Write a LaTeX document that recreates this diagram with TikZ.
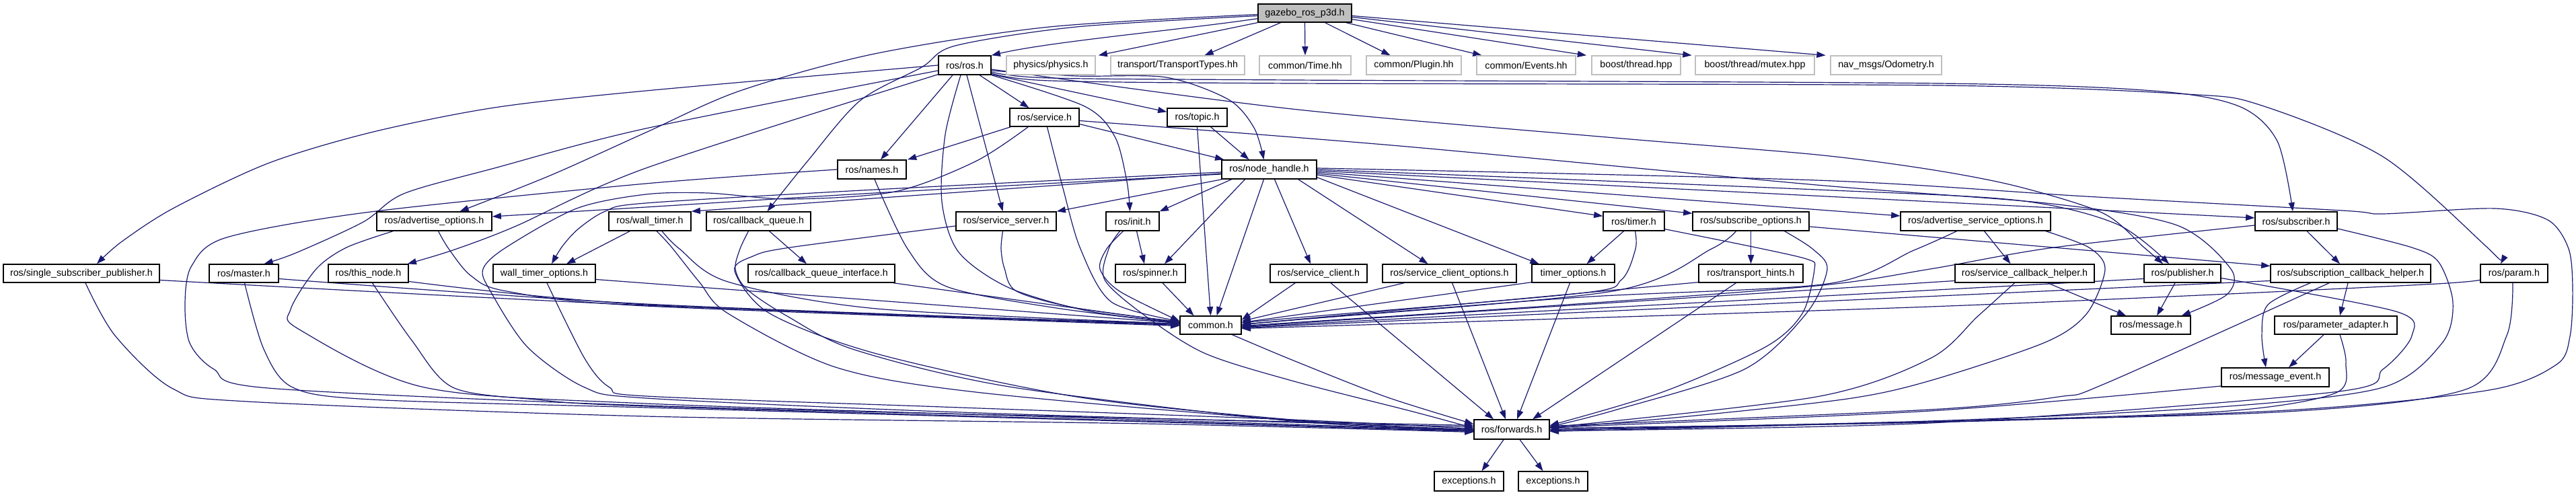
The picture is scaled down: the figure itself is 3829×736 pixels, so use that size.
\documentclass[tikz,border=0pt]{standalone}
\usepackage{fontspec}
\setmainfont{Liberation Sans}
\usetikzlibrary{arrows.meta,calc}
\definecolor{edgec}{HTML}{191970}
\definecolor{gry}{HTML}{BFBFBF}
\pgfdeclarelayer{bgl}
\pgfdeclarelayer{edl}
\pgfsetlayers{bgl,edl,main}
\newcommand\nd[7]{\node[#1,minimum width={(#5-#3)*0.25pt},minimum height={(#6-#4)*0.25pt}] (#2) at ({(#3+#5)/2},{(#4+#6)/2}) {#7};}
\begin{document}
\begin{tikzpicture}[x=0.25pt,y=-0.25pt,
  bx/.style={rectangle,inner sep=0pt,line width=0.35pt,font=\fontsize{3.57pt}{4.2pt}\selectfont},
  ob/.style={bx,draw=black,fill=white},
  gr/.style={bx,draw=gry,fill=white},
  gz/.style={bx,draw=black,fill=gry},
  e/.style={draw=edgec,line width=0.3pt,-{Triangle[length=3.3pt,width=2.3pt]}}]
\useasboundingbox (0,0) rectangle (3829,736);
\begin{pgfonlayer}{bgl}
\fill[white] (0,0) rectangle (3829,736);
\end{pgfonlayer}
% nodes
\nd{gz}{G}{1870}{6}{2009}{33}{gazebo\_ros\_p3d.h}
\nd{ob}{ros}{1395}{83}{1473}{111}{ros/ros.h}
\nd{gr}{phys}{1496}{83}{1628}{111}{physics/physics.h}
\nd{gr}{trans}{1651}{83}{1850}{111}{transport/TransportTypes.hh}
\nd{gr}{time}{1872}{83}{2008}{111}{common/Time.hh}
\nd{gr}{plug}{2031}{83}{2172}{111}{common/Plugin.hh}
\nd{gr}{evt}{2195}{83}{2342}{111}{common/Events.hh}
\nd{gr}{bth}{2366}{83}{2498}{111}{boost/thread.hpp}
\nd{gr}{bmx}{2520}{83}{2697}{111}{boost/thread/mutex.hpp}
\nd{gr}{odom}{2721}{83}{2886}{111}{nav\_msgs/Odometry.h}
\nd{ob}{srv}{1501}{161}{1604}{188}{ros/service.h}
\nd{ob}{topic}{1735}{161}{1824}{188}{ros/topic.h}
\nd{ob}{names}{1245}{238}{1347}{266}{ros/names.h}
\nd{ob}{nh}{1816}{238}{1957}{266}{ros/node\_handle.h}
\nd{ob}{advo}{560}{315}{731}{343}{ros/advertise\_options.h}
\nd{ob}{wt}{905}{315}{1027}{343}{ros/wall\_timer.h}
\nd{ob}{cbq}{1050}{315}{1205}{343}{ros/callback\_queue.h}
\nd{ob}{ss}{1421}{315}{1570}{343}{ros/service\_server.h}
\nd{ob}{init}{1644}{315}{1723}{343}{ros/init.h}
\nd{ob}{timer}{2383}{315}{2474}{343}{ros/timer.h}
\nd{ob}{subo}{2516}{315}{2689}{343}{ros/subscribe\_options.h}
\nd{ob}{aso}{2825}{315}{3048}{343}{ros/advertise\_service\_options.h}
\nd{ob}{sub}{3352}{315}{3474}{343}{ros/subscriber.h}
\nd{ob}{ssp}{5}{393}{237}{420}{ros/single\_subscriber\_publisher.h}
\nd{ob}{master}{311}{393}{414}{420}{ros/master.h}
\nd{ob}{thisn}{488}{393}{607}{420}{ros/this\_node.h}
\nd{ob}{wto}{733}{393}{885}{420}{wall\_timer\_options.h}
\nd{ob}{cbqi}{1112}{393}{1330}{420}{ros/callback\_queue\_interface.h}
\nd{ob}{spin}{1658}{393}{1762}{420}{ros/spinner.h}
\nd{ob}{sc}{1888}{393}{2032}{420}{ros/service\_client.h}
\nd{ob}{sco}{2055}{393}{2254}{420}{ros/service\_client\_options.h}
\nd{ob}{tmo}{2277}{393}{2400}{420}{timer\_options.h}
\nd{ob}{th}{2525}{393}{2680}{420}{ros/transport\_hints.h}
\nd{ob}{sch}{2906}{393}{3113}{420}{ros/service\_callback\_helper.h}
\nd{ob}{pub}{3187}{393}{3301}{420}{ros/publisher.h}
\nd{ob}{sbch}{3375}{393}{3613}{420}{ros/subscription\_callback\_helper.h}
\nd{ob}{param}{3687}{393}{3787}{420}{ros/param.h}
\nd{ob}{common}{1754}{470}{1845}{497}{common.h}
\nd{ob}{msg}{3138}{470}{3256}{497}{ros/message.h}
\nd{ob}{pa}{3381}{470}{3563}{497}{ros/parameter\_adapter.h}
\nd{ob}{me}{3302}{547}{3462}{575}{ros/message\_event.h}
\nd{ob}{fwd}{2191}{624}{2303}{653}{ros/forwards.h}
\nd{ob}{ex1}{2132}{701}{2235}{730}{exceptions.h}
\nd{ob}{ex2}{2257}{701}{2360}{730}{exceptions.h}
\begin{pgfonlayer}{edl}
% gazebo
\draw[e] ($(G.south west)+(0,-6)$) .. controls (1750,45) and (1560,62) .. (ros.north east);
\draw[e] (G.south west) -- ($(phys.north east)+(4,0)$);
\draw[e] ($(G.south)+(-36,0)$) -- ($(trans.north)+(40,0)$);
\draw[e] (G.south) -- (time.north);
\draw[e] ($(G.south)+(30,0)$) -- ($(plug.north)+(-35,0)$);
\draw[e] ($(G.south east)+(-9,0)$) -- ($(evt.north)+(-66,0)$);
\draw[e] ($(G.south east)+(0,-5)$) -- ($(bth.north)+(-74,0)$);
\draw[e] ($(G.east)+(0,6)$) -- ($(bmx.north)+(-94,0)$);
\draw[e] ($(G.east)+(0,4)$) -- ($(odom.north)+(-90,0)$);
\draw[e] plot[smooth] coordinates {($(G.west)+(0,2)$) (1560,40) (1300,80) (1100,135) (960,197) (820,260) ($(advo.north)+(38,0)$)};
\draw[e] plot[smooth] coordinates {($(G.west)+(0,4)$) (1600,40) (1420,68) (1370,100) (1278,150) (1200,240) ($(cbq.north)+(13,0)$)};
% ros.h
\draw[e] plot[smooth] coordinates {(ros.west) (960,135) (735,160) (551,197) (398,243) (257,310) (180,360) ($(ssp.north)+(23,0)$)};
\draw[e] plot[smooth] coordinates {($(ros.west)+(0,8)$) (960,191) (735,250) (600,288) (540,330) (440,376) ($(master.north)+(30,0)$)};
\draw[e] plot[smooth] coordinates {($(ros.south west)+(0,-1)$) (960,250) (765,337) (673,372) ($(thisn.north east)+(-2,0)$)};
\draw[e] ($(ros.south)+(-18,0)$) -- ($(names.north)+(13,0)$);
\draw[e] plot[smooth] coordinates {($(ros.south)+(-6,0)$) (1405,200) (1400,300) (1425,375) (1500,428) (1620,463) ($(common.west)+(0,-4)$)};
\draw[e] ($(ros.south)+(3,0)$) -- ($(ss.north)+(-5,0)$);
\draw[e] ($(ros.south)+(22,0)$) -- ($(srv.north)+(-23,0)$);
\draw[e] plot[smooth] coordinates {(ros.south east) (1612,158) (1657,203) (1675,270) ($(init.north)+(-4,0)$)};
\draw[e] ($(ros.south east)+(0,-1)$) -- ($(topic.north west)+(0,6)$);
\draw[e] plot[smooth] coordinates {($(ros.east)+(0,8)$) (1600,113) (1733,115) (1826,148) (1864,190) ($(nh.north)+(-8,0)$)};
\draw[e] plot[smooth] coordinates {($(ros.east)+(0,6)$) (1920,162) (2400,205) (2700,230) (2869,252) (2998,277) (3126,317) (3187,368) ($(pub.north)+(-29,0)$)};
\draw[e] plot[smooth] coordinates {($(ros.east)+(0,10)$) (1560,116) (1920,119) (2880,124) (3200,135) (3328,158) (3385,210) ($(sub.north)+(-5,0)$)};
\draw[e] plot[smooth] coordinates {($(ros.east)+(0,12)$) (1560,120) (1920,124) (2880,127) (3250,140) (3359,156) (3542,233) (3695,366) ($(param.north)+(-20,0)$)};
% service.h
\draw[e] ($(srv.south west)+(2,0)$) -- ($(names.north)+(53,0)$);
\draw[e] ($(srv.east)+(0,10)$) -- ($(nh.north west)+(4,0)$);
\draw[e] plot[smooth] coordinates {($(srv.south)+(4,0)$) (1580,280) (1606,370) (1652,449) ($(common.west)+(0,-6)$)};
\draw[e] plot[smooth] coordinates {($(srv.south west)+(28,0)$) (1450,240) (1330,285) (1174,296) (1052,287) (960,289) (857,310) (752,368) (718,400) (729,433) (784,516) (869,576) (960,592) (1400,612) (1920,628) ($(fwd.west)+(0,-4)$)};
\draw[e] plot[smooth] coordinates {($(srv.east)+(0,5)$) (2080,217) (2700,275) (3050,303) (3236,335) (3316,400) (3310,438) ($(msg.north east)+(-14,0)$)};
% topic.h
\draw[e] ($(topic.south)+(20,0)$) -- ($(nh.north)+(-30,0)$);
\draw[e] (topic.south) -- (common.north);
% names.h
\draw[e] plot[smooth] coordinates {(names.west) (960,273) (551,315) (337,353) (285,395) (275,450) (282,510) (318,549) (398,577) (960,603) (1700,622) ($(fwd.west)+(0,-6)$)};
\draw[e] plot[smooth] coordinates {($(names.south)+(4,0)$) (1349,370) (1407,426) (1570,458) ($(common.west)+(0,-3)$)};
% node_handle.h
\draw[e] ($(nh.west)+(0,6)$) -- (wt.north east);
\draw[e] plot[smooth] coordinates {($(nh.west)+(0,7)$) (1300,287) (960,308) ($(advo.east)+(0,-7)$)};
\draw[e] plot[smooth] coordinates {($(nh.west)+(0,4)$) (1300,282) (960,302) (900,314) (860,340) (836,366) ($(wto.north)+(11,0)$)};
\draw[e] ($(nh.south west)+(1,0)$) -- (ss.north east);
\draw[e] ($(nh.south)+(-56,0)$) -- (init.north east);
\draw[e] ($(nh.south)+(-36,0)$) -- ($(spin.north)+(21,0)$);
\draw[e] ($(nh.south)+(-8,0)$) -- ($(common.north)+(9,0)$);
\draw[e] ($(nh.south)+(8,0)$) -- ($(sc.north)+(-12,0)$);
\draw[e] ($(nh.south east)+(-28,0)$) -- ($(sco.north)+(-32,0)$);
\draw[e] ($(nh.south east)+(0,-3)$) -- ($(tmo.north)+(-51,0)$);
\draw[e] ($(nh.east)+(0,8)$) -- ($(timer.north west)+(0,7)$);
\draw[e] ($(nh.east)+(0,6)$) -- ($(subo.north west)+(0,3)$);
\draw[e] ($(nh.east)+(0,4)$) -- ($(aso.west)+(0,-8)$);
\draw[e] ($(nh.east)+(0,2)$) -- ($(sub.west)+(0,-5)$);
\draw[e] plot[smooth] coordinates {(nh.east) (2700,282) (3000,298) (3146,333) ($(pub.north)+(-20,0)$)};
\draw[e] plot[smooth] coordinates {($(nh.east)+(0,-2)$) (2700,268) (3100,292) (3481,313) (3542,318) (3708,310) (3787,327) (3818,370) (3824,430) (3820,500) (3800,542) (3700,580) (3400,610) (2869,628) ($(fwd.east)+(0,-2)$)};
% wall_timer.h
\draw[e] ($(wt.south west)+(32,0)$) -- ($(wto.north)+(33,0)$);
\draw[e] plot[smooth] coordinates {($(wt.south)+(18,0)$) (1010,370) (1082,419) (1303,459) ($(common.west)+(0,-2)$)};
\draw[e] plot[smooth] coordinates {($(wt.south)+(10,0)$) (997,366) (1040,420) (1082,466) (1242,546) (1450,583) (1920,625) (fwd.west)};
% callback_queue.h
\draw[e] ($(cbq.south)+(16,0)$) -- ($(cbqi.north)+(-22,0)$);
\draw[e] plot[smooth] coordinates {($(cbq.south)+(-15,0)$) (1100,370) (1093,400) (1110,430) (1170,470) (1270,520) (1500,575) (1920,626) ($(fwd.west)+(0,1)$)};
% service_server.h
\draw[e] plot[smooth] coordinates {($(ss.south)+(-5,0)$) (1488,370) (1493,399) (1511,433) (1600,458) ($(common.west)+(0,-5)$)};
\draw[e] plot[smooth] coordinates {($(ss.west)+(0,7)$) (1174,368) (1119,381) (1092,403) (1144,466) (1303,526) (1600,590) (1920,624) ($(fwd.west)+(0,2)$)};
% init.h
\draw[e] ($(init.south)+(6,0)$) -- ($(spin.north)+(-9,0)$);
\draw[e] plot[smooth] coordinates {($(init.south)+(-14,0)$) (1645,370) (1635,400) (1664,433) ($(common.west)+(0,-6)$)};
\draw[e] plot[smooth] coordinates {($(init.south)+(-19,0)$) (1648,370) (1642,416) (1700,468) (1790,525) (1920,566) (2100,612) ($(fwd.west)+(0,-2)$)};
% spinner, callback_queue_interface, common
\draw[e] ($(spin.south)+(18,0)$) -- ($(common.north)+(-25,0)$);
\draw[e] ($(cbqi.south east)+(-3,0)$) -- ($(common.west)+(0,-4)$);
\draw[e] plot[smooth] coordinates {($(common.south)+(32,0)$) (1920,535) (2060,590) ($(fwd.west)+(0,-8)$)};
% left row
\draw[e] plot[smooth] coordinates {($(ssp.east)+(0,10)$) (960,454) ($(common.west)+(0,-2)$)};
\draw[e] plot[smooth] coordinates {($(ssp.south)+(6,0)$) (171,499) (257,578) (367,597) (960,619) (1700,630) ($(fwd.west)+(0,4)$)};
\draw[e] plot[smooth] coordinates {($(master.east)+(0,8)$) (960,452) ($(common.west)+(0,-1)$)};
\draw[e] plot[smooth] coordinates {($(master.south)+(1,0)$) (392,519) (435,576) (551,594) (960,606) (1700,627) ($(fwd.west)+(0,3)$)};
\draw[e] plot[smooth] coordinates {($(thisn.east)+(0,12)$) (960,453) (common.west)};
\draw[e] plot[smooth] coordinates {($(thisn.south)+(6,0)$) (612,506) (673,576) (796,594) (960,604) (1700,626) ($(fwd.west)+(0,2)$)};
\draw[e] ($(wto.east)+(0,9)$) -- ($(common.west)+(0,-3)$);
\draw[e] plot[smooth] coordinates {($(wto.south)+(4,0)$) (869,533) (906,576) (960,589) (1400,605) (1920,624) ($(fwd.west)+(0,-1)$)};
\draw[e] plot[smooth] coordinates {($(advo.south west)+(25,0)$) (515,368) (470,400) (432,460) (445,490) (631,576) (960,600) (1700,624) ($(fwd.west)+(0,1)$)};
\draw[e] plot[smooth] coordinates {($(advo.south)+(6,0)$) (667,370) (700,410) (753,433) (960,455) ($(common.west)+(0,1)$)};
% right into common
\draw[e] ($(sc.south west)+(38,0)$) -- ($(common.east)+(0,-8)$);
\draw[e] ($(sco.south west)+(33,0)$) -- ($(common.east)+(0,-6)$);
\draw[e] ($(tmo.south west)+(0,-1)$) -- ($(common.east)+(0,-4)$);
\draw[e] plot[smooth] coordinates {($(timer.south)+(2,0)$) (2431,370) (2410,416) (2349,436) (1920,473) ($(common.east)+(0,-3)$)};
\draw[e] plot[smooth] coordinates {($(subo.south)+(-22,0)$) (2544,370) (2397,433) (1920,476) ($(common.east)+(0,-2)$)};
\draw[e] ($(th.south west)+(0,-1)$) -- ($(common.east)+(0,-1)$);
\draw[e] plot[smooth] coordinates {($(aso.south)+(-28,0)$) (2845,372) (2716,422) (2349,442) (1920,476) (common.east)};
\draw[e] plot[smooth] coordinates {($(sub.west)+(0,6)$) (3053,368) (2869,400) (2700,425) (2300,455) ($(common.east)+(0,1)$)};
\draw[e] ($(sch.west)+(0,11)$) -- ($(common.east)+(0,2)$);
\draw[e] ($(pub.west)+(0,8)$) -- ($(common.east)+(0,3)$);
\draw[e] ($(sbch.west)+(0,11)$) -- ($(common.east)+(0,4)$);
\draw[e] plot[smooth] coordinates {($(param.west)+(0,7)$) (3604,423) (2869,456) ($(common.east)+(0,5)$)};
% into forwards from top
\draw[e] ($(sc.south)+(18,0)$) -- ($(fwd.north)+(-27,0)$);
\draw[e] ($(sco.south)+(4,0)$) -- ($(fwd.north)+(-9,0)$);
\draw[e] ($(tmo.south)+(-5,0)$) -- ($(fwd.north)+(8,0)$);
\draw[e] ($(th.south)+(-22,0)$) -- ($(fwd.north)+(31,0)$);
% timer, subscribe options
\draw[e] ($(timer.south)+(-15,0)$) -- ($(tmo.north)+(20,0)$);
\draw[e] plot[smooth] coordinates {($(timer.south east)+(0,-3)$) (2610,368) (2688,386) (2697,400) (2679,466) (2624,516) (2471,583) ($(fwd.east)+(0,-6)$)};
\draw[e] (subo.south) -- (th.north);
\draw[e] plot[smooth] coordinates {($(subo.south)+(50,0)$) (2694,370) (2716,400) (2685,466) (2593,549) (2400,610) ($(fwd.east)+(0,-4)$)};
\draw[e] ($(subo.east)+(0,8)$) -- ($(sbch.west)+(0,-11)$);
% advertise service options, subscriber
\draw[e] ($(aso.south)+(13,0)$) -- ($(sch.north)+(-21,0)$);
\draw[e] plot[smooth] coordinates {($(aso.south east)+(-8,0)$) (3105,368) (3129,400) (3102,466) (3040,509) (2869,566) (2746,593) (2500,620) ($(fwd.east)+(0,-2)$)};
\draw[e] ($(sub.south)+(16,0)$) -- ($(sbch.north)+(-16,0)$);
\draw[e] plot[smooth] coordinates {($(sub.east)+(0,11)$) (3585,368) (3625,390) (3646,450) (3630,510) (3542,576) (3300,605) (2869,626) (fwd.east)};
% helpers, publisher
\draw[e] ($(sch.south)+(34,0)$) -- ($(msg.north)+(-37,0)$);
\draw[e] plot[smooth] coordinates {($(sch.south)+(-15,0)$) (2940,470) (2869,533) (2700,590) ($(fwd.east)+(0,-3)$)};
\draw[e] ($(pub.south)+(-11,0)$) -- ($(msg.north)+(9,0)$);
\draw[e] plot[smooth] coordinates {($(pub.east)+(0,7)$) (3561,463) (3585,499) (3542,549) (3469,583) (2869,629) ($(fwd.east)+(0,2)$)};
\draw[e] ($(sbch.south)+(-4,0)$) -- ($(pa.north)+(6,0)$);
\draw[e] plot[smooth] coordinates {($(sbch.south west)+(60,0)$) (3371,453) (3362,499) ($(me.north)+(-14,0)$)};
\draw[e] plot[smooth] coordinates {($(sbch.south west)+(88,0)$) (3130,570) (3060,590) (2869,609) ($(fwd.east)+(0,-5)$)};
\draw[e] ($(pa.south)+(-18,0)$) -- ($(me.north)+(20,0)$);
\draw[e] plot[smooth] coordinates {($(pa.south)+(6,0)$) (3487,540) (3470,585) (3300,612) (2869,627) ($(fwd.east)+(0,1)$)};
\draw[e] plot[smooth] coordinates {($(me.west)+(0,13)$) (2869,611) ($(fwd.east)+(0,-3)$)};
\draw[e] plot[smooth] coordinates {($(param.south)+(-2,0)$) (3726,499) (3665,579) (3400,612) (2869,627) ($(fwd.east)+(0,3)$)};
% forwards
\draw[e] ($(fwd.south)+(-12,0)$) -- ($(ex1.north)+(19,0)$);
\draw[e] ($(fwd.south)+(12,0)$) -- ($(ex2.north)+(-15,0)$);
\end{pgfonlayer}
\end{tikzpicture}
\end{document}
